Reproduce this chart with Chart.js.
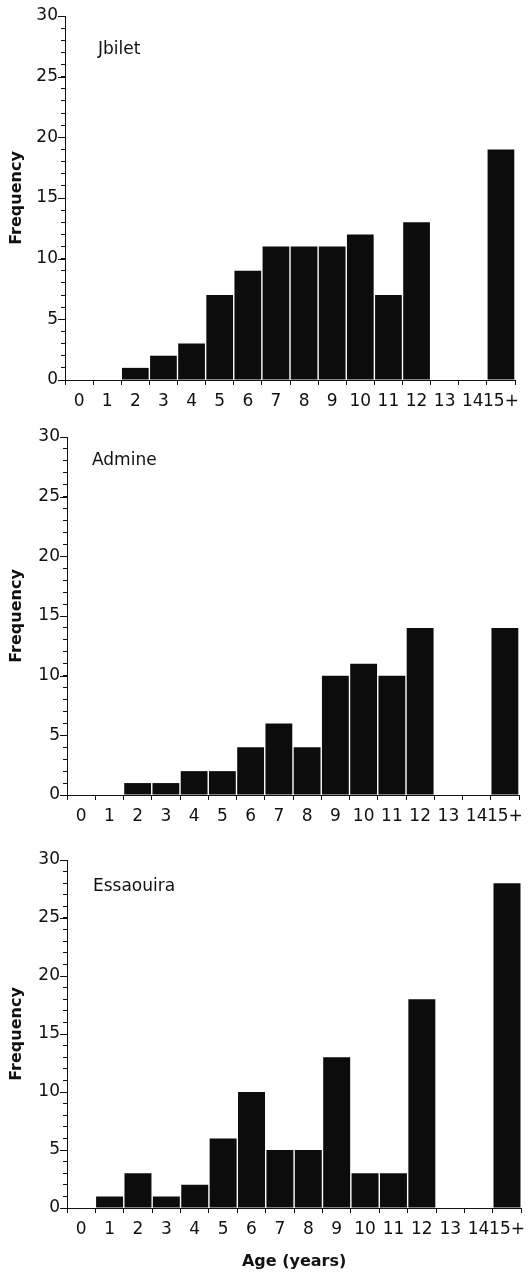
<!DOCTYPE html>
<html>
<head>
<meta charset="utf-8">
<script src="https://cdn.jsdelivr.net/npm/chart.js@4.4.1/dist/chart.umd.min.js"></script>
<style>
  html, body { margin: 0; padding: 0; background: #fff; }
  body { width: 531px; height: 1276px; position: relative; overflow: hidden; }
  canvas { position: absolute; left: 0; }
</style>
</head>
<body>
<canvas id="c1" width="531" height="418" style="top:0px"></canvas>
<canvas id="c2" width="531" height="418" style="top:418px"></canvas>
<canvas id="c3" width="531" height="440" style="top:836px"></canvas>
<script>
// age classes on the x axis
const ages = ['0', '1', '2', '3', '4', '5', '6', '7', '8', '9', '10', '11', '12', '13', '14', '15+'];

// frequencies per site
const jbilet    = [0, 0, 1, 2, 3, 7, 9, 11, 11, 11, 12, 7, 13, 0, 0, 19];
const admine    = [0, 0, 1, 1, 2, 2, 4, 6, 4, 10, 11, 10, 14, 0, 0, 14];
const essaouira = [0, 1, 3, 1, 2, 6, 10, 5, 5, 13, 3, 3, 18, 0, 0, 28];

const siteNames = ['Jbilet', 'Admine', 'Essaouira'];
const yMajorTicks = [0, 5, 10, 15, 20, 25, 30];

const ink = '#111';
const fontFamily = '"DejaVu Sans", sans-serif';

// longer ticks at the labelled values
const majorTicks = {
  id: 'majorTicks',
  afterDraw(chart) {
    const y = chart.scales.y;
    const ctx = chart.ctx;
    ctx.save();
    ctx.strokeStyle = ink;
    ctx.lineWidth = 1;
    yMajorTicks.forEach(v => {
      const py = Math.round(y.getPixelForValue(v)) + 0.5;
      ctx.beginPath();
      ctx.moveTo(y.right - 7, py);
      ctx.lineTo(y.right, py);
      ctx.stroke();
    });
    ctx.restore();
  }
};

// site name inside the plot
const siteLabel = {
  id: 'siteLabel',
  afterDraw(chart, args, opts) {
    const area = chart.chartArea;
    const ctx = chart.ctx;
    ctx.save();
    ctx.fillStyle = ink;
    ctx.font = '17px ' + fontFamily;
    ctx.textAlign = 'left';
    ctx.textBaseline = 'middle';
    ctx.fillText(opts.text, area.left + opts.dx, area.top + opts.dy);
    ctx.restore();
  }
};

function makeChart(id, values, name, g, showXTitle) {
  const ctx = document.getElementById(id).getContext('2d');
  return new Chart(ctx, {
    type: 'bar',
    data: {
      labels: ages,
      datasets: [{
        data: values,
        backgroundColor: '#0c0c0c',
        borderWidth: 0,
        categoryPercentage: 1,
        barPercentage: 0.95
      }]
    },
    options: {
      responsive: false,
      animation: false,
      devicePixelRatio: 1,
      layout: { padding: { top: g.top, right: 531 - g.right, left: 0, bottom: 0 } },
      plugins: {
        legend: { display: false },
        tooltip: { enabled: false },
        siteLabel: { text: name, dx: g.dx, dy: g.dy }
      },
      scales: {
        x: {
          offset: true,
          grid: { offset: true, drawOnChartArea: false, tickLength: 5, color: ink },
          border: { display: true, color: ink, width: 1 },
          ticks: {
            autoSkip: false, maxRotation: 0, minRotation: 0, padding: 6,
            color: ink, font: { family: fontFamily, size: 17 }
          },
          title: {
            display: showXTitle,
            text: 'Age (years)',
            color: ink,
            font: { family: fontFamily, size: 16, weight: 'bold' },
            padding: { top: 4, bottom: 5 }
          },
          afterFit(scale) { scale.height = g.h - g.bottom; }
        },
        y: {
          min: 0,
          max: 30,
          grid: { drawOnChartArea: false, tickLength: 4, color: ink },
          border: { display: true, color: ink, width: 1 },
          ticks: {
            stepSize: 1, autoSkip: false, padding: 3,
            color: ink, font: { family: fontFamily, size: 17 },
            callback: v => (v % 5 === 0 ? v : '')
          },
          title: {
            display: true,
            text: 'Frequency',
            color: ink,
            font: { family: fontFamily, size: 16, weight: 'bold' },
            padding: { top: 7, bottom: 0 }
          },
          afterFit(scale) { scale.width = g.left; }
        }
      }
    },
    plugins: [majorTicks, siteLabel]
  });
}

makeChart('c1', jbilet, siteNames[0],
  { h: 418, left: 65, top: 16, bottom: 380, right: 515, dx: 33, dy: 34 }, false);
makeChart('c2', admine, siteNames[1],
  { h: 418, left: 67, top: 19, bottom: 377, right: 519, dx: 25, dy: 24 }, false);
makeChart('c3', essaouira, siteNames[2],
  { h: 440, left: 67, top: 24, bottom: 372, right: 529, dx: 26, dy: 27 }, true);
</script>
</body>
</html>
